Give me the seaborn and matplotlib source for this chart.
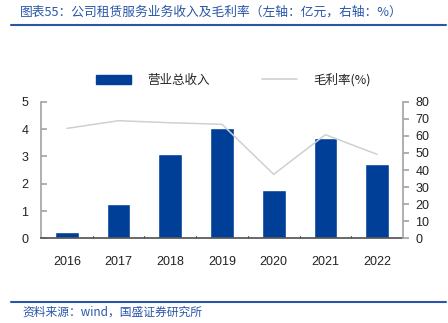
import matplotlib
matplotlib.use("Agg")
import matplotlib.pyplot as plt
from matplotlib.lines import Line2D
from matplotlib.patches import Patch
import numpy as np
import pandas as pd
import seaborn as sns

years = ["2016", "2017", "2018", "2019", "2020", "2021", "2022"]
revenue = [0.24, 1.25, 3.07, 4.04, 1.77, 3.66, 2.72]   # 亿元
margin = [64.4, 68.9, 67.7, 66.8, 37.5, 60.7, 49.2]     # %

left_ticks = [0, 1, 2, 3, 4, 5]
right_ticks = [0, 10, 20, 30, 40, 50, 60, 70, 80]

BAR = "#003f98"
LINE = "#d0d0d0"
TITLE = "#2a56a8"
SPINE = "#a6a6a6"
CJK = ["Noto Sans CJK SC", "DejaVu Sans"]

sns.set_theme(style="white")
plt.rcParams["font.family"] = ["Liberation Sans", "Noto Sans CJK SC"]

df = pd.DataFrame({"year": years, "revenue": revenue, "margin": margin})

fig = plt.figure(figsize=(4.48, 3.23), dpi=100)
ax = fig.add_axes([0.0915, 0.262, 0.808, 0.423])

sns.barplot(data=df, x="year", y="revenue", color=BAR, saturation=1,
            width=0.46, ax=ax)
ax.set_ylim(0, 5)
ax.set_yticks(left_ticks)
ax.set_xlim(-0.5, len(years) - 0.5)
ax.set_xlabel("")
ax.set_ylabel("")

ax2 = ax.twinx()
sns.lineplot(x=np.arange(len(years)), y=df["margin"], color=LINE,
             linewidth=1.1, ax=ax2)
ax2.set_ylim(0, 80)
ax2.set_yticks(right_ticks)
ax2.set_ylabel("")
ax2.set_xlim(-0.5, len(years) - 0.5)

for a in (ax, ax2):
    a.spines["top"].set_visible(False)
    a.spines["left"].set_color(SPINE)
    a.spines["right"].set_color(SPINE)
    a.spines["bottom"].set_color("#555555")
ax.spines["right"].set_visible(False)
ax2.spines["left"].set_visible(False)
ax2.spines["bottom"].set_visible(False)

ax.tick_params(axis="y", which="both", left=True, length=4, color=SPINE,
               labelsize=9, labelcolor="#222222", pad=9, direction="in")
ax.tick_params(axis="x", bottom=False, labelsize=9, labelcolor="#222222", pad=7)
ax2.tick_params(axis="y", right=True, length=4, color=SPINE, labelsize=9,
                labelcolor="#222222", pad=5, direction="out")

# category separators on the baseline
for b in np.arange(0.5, len(years) - 0.5, 1.0):
    ax.plot([b, b], [0, 0.08], color="#555555", lw=0.8, clip_on=False)

handles = [Patch(facecolor=BAR, edgecolor=BAR),
           Line2D([0], [0], color=LINE, lw=1.2)]
fig.legend(handles, ["营业总收入", "毛利率(%)"], loc="center",
           bbox_to_anchor=(0.521, 0.752), ncol=2, frameon=False,
           prop={"family": CJK, "size": 9},
           handlelength=2.8, handleheight=0.8, columnspacing=4.2,
           handletextpad=1.3)

fig.text(0.045, 0.962, "图表55：公司租赁服务业务收入及毛利率（左轴：亿元，右轴：%）",
         color=TITLE, fontsize=9.2, va="center", ha="left", family=CJK)
fig.add_artist(Line2D([0.025, 0.995], [0.922, 0.922], color=TITLE, lw=1.5,
                      transform=fig.transFigure))
fig.add_artist(Line2D([0.025, 0.995], [0.065, 0.065], color=TITLE, lw=1.5,
                      transform=fig.transFigure))
fig.text(0.05, 0.033, "资料来源：wind，国盛证券研究所", color=TITLE, fontsize=8.5,
         va="center", ha="left", family=CJK)

fig.savefig("out.png", dpi=100)
